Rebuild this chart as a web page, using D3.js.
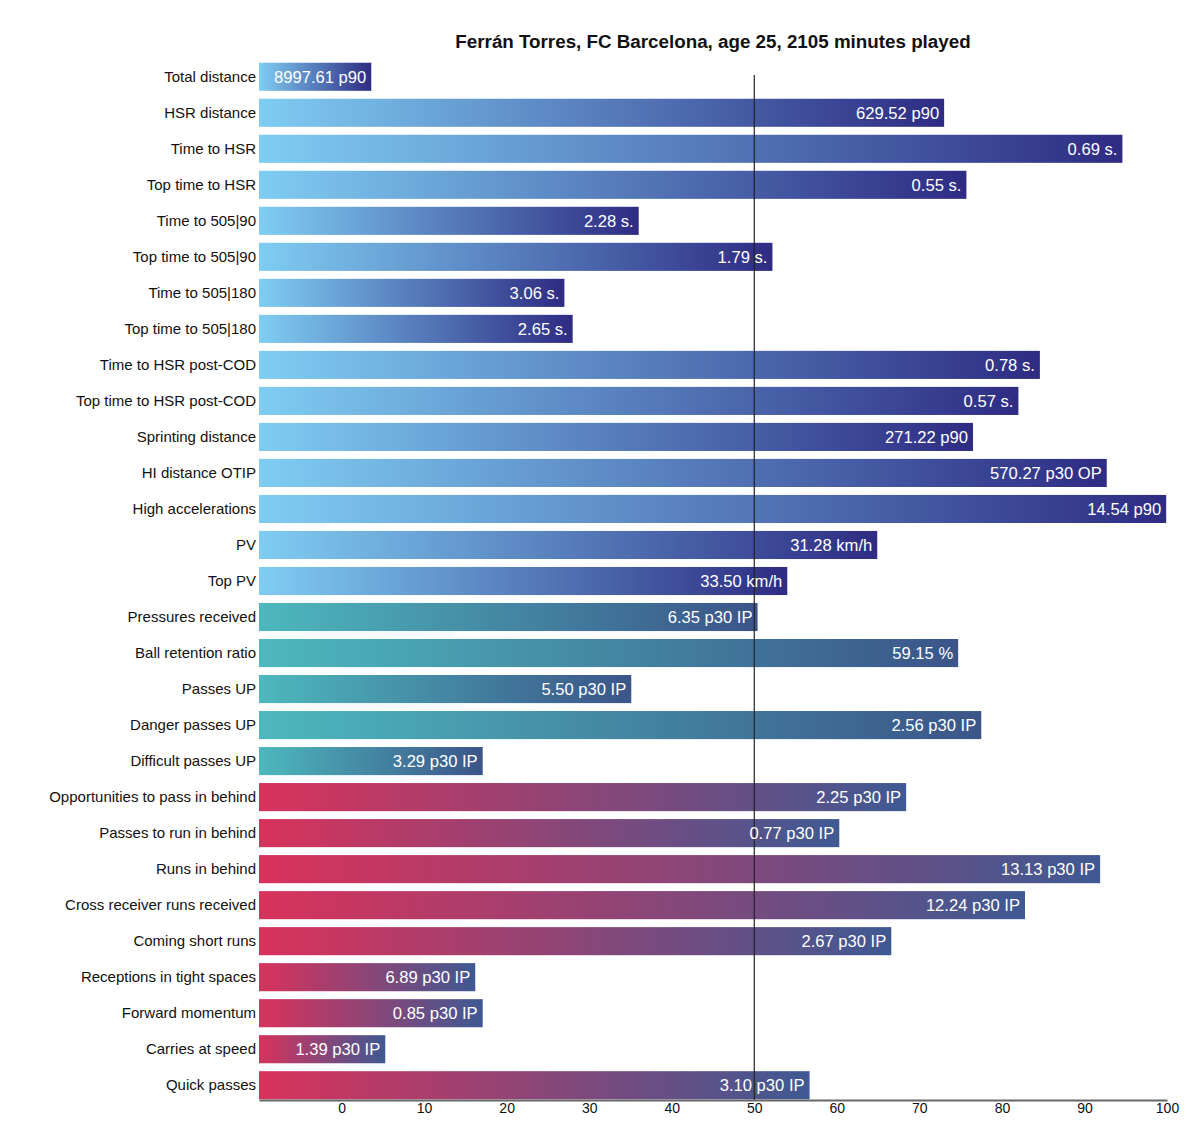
<!DOCTYPE html>
<html>
<head>
<meta charset="utf-8">
<script src="https://cdn.jsdelivr.net/npm/d3@7"></script>
<style>
  body { margin: 0; background: #fff; font-family: Helvetica, Arial, "Liberation Sans", sans-serif; }
</style>
</head>
<body>
<div id="chart"></div>
<script>
// metric names, top to bottom
const metrics = [
  "Total distance", "HSR distance", "Time to HSR", "Top time to HSR",
  "Time to 505|90", "Top time to 505|90", "Time to 505|180", "Top time to 505|180",
  "Time to HSR post-COD", "Top time to HSR post-COD", "Sprinting distance",
  "HI distance OTIP", "High accelerations", "PV", "Top PV",
  "Pressures received", "Ball retention ratio", "Passes UP", "Danger passes UP",
  "Difficult passes UP",
  "Opportunities to pass in behind", "Passes to run in behind", "Runs in behind",
  "Cross receiver runs received", "Coming short runs", "Receptions in tight spaces",
  "Forward momentum", "Carries at speed", "Quick passes"
]

// percentile (bar length)
const percentiles = [
  3.6, 73.0, 94.6, 75.7,
  36.0, 52.2, 27.0, 28.0,
  84.6, 82.0, 76.5,
  92.7, 99.9, 64.9, 54.0,
  50.4, 74.7, 35.1, 77.5,
  17.1,
  68.4, 60.3, 91.9,
  82.8, 66.6, 16.2,
  17.1, 5.3, 56.7
]

// raw value shown inside each bar
const valueLabels = [
  "8997.61 p90", "629.52 p90", "0.69 s.", "0.55 s.",
  "2.28 s.", "1.79 s.", "3.06 s.", "2.65 s.",
  "0.78 s.", "0.57 s.", "271.22 p90",
  "570.27 p30 OP", "14.54 p90", "31.28 km/h", "33.50 km/h",
  "6.35 p30 IP", "59.15 %", "5.50 p30 IP", "2.56 p30 IP",
  "3.29 p30 IP",
  "2.25 p30 IP", "0.77 p30 IP", "13.13 p30 IP",
  "12.24 p30 IP", "2.67 p30 IP", "6.89 p30 IP",
  "0.85 p30 IP", "1.39 p30 IP", "3.10 p30 IP"
]

// which block each metric belongs to
const groups = [
  "phys", "phys", "phys", "phys", "phys", "phys", "phys", "phys",
  "phys", "phys", "phys", "phys", "phys", "phys", "phys",
  "pass", "pass", "pass", "pass", "pass",
  "run", "run", "run", "run", "run", "run", "run", "run", "run"
]

const xTicks = [0, 10, 20, 30, 40, 50, 60, 70, 80, 90, 100]

const groupColors = {
  phys: ["#7fcdf3", "#2e2c83"],
  pass: ["#4db8bd", "#3b5589"],
  run:  ["#d8325b", "#3f5993"]
}

const data = metrics.map((m, i) => ({
  metric: m, pct: percentiles[i], label: valueLabels[i], group: groups[i]
}))

const W = 1200, H = 1148

const svg = d3.select("#chart").append("svg")
  .attr("width", W)
  .attr("height", H)

const x = d3.scaleLinear().domain([-10, 100]).range([259, 1167])
const y = d3.scaleBand().domain(metrics).range([62, 1100])
  .paddingInner(0.22).paddingOuter(0.02)

// one gradient per block, stretched over each bar
const defs = svg.append("defs")
Object.keys(groupColors).forEach(function(g) {
  const grad = defs.append("linearGradient")
    .attr("id", "grad-" + g)
    .attr("x1", "0%").attr("x2", "100%")
    .attr("y1", "0%").attr("y2", "0%")
  grad.append("stop").attr("offset", "0%").attr("stop-color", groupColors[g][0])
  grad.append("stop").attr("offset", "100%").attr("stop-color", groupColors[g][1])
})

// title
svg.append("text")
  .attr("x", 713)
  .attr("y", 48)
  .attr("text-anchor", "middle")
  .style("font-size", "18.8px")
  .style("font-weight", "bold")
  .style("fill", "#111")
  .text("Ferrán Torres, FC Barcelona, age 25, 2105 minutes played")

// bars
svg.append("g")
  .selectAll("rect")
  .data(data)
  .enter()
  .append("rect")
    .attr("x", x(-10))
    .attr("y", d => y(d.metric))
    .attr("width", d => x(d.pct) - x(-10))
    .attr("height", y.bandwidth())
    .style("fill", d => "url(#grad-" + d.group + ")")

// metric names on the left
svg.append("g")
  .selectAll("text")
  .data(data)
  .enter()
  .append("text")
    .attr("x", x(-10) - 3)
    .attr("y", d => y(d.metric) + y.bandwidth() / 2)
    .attr("dy", "0.35em")
    .attr("text-anchor", "end")
    .style("font-size", "15px")
    .style("fill", "#111")
    .text(d => d.metric)

// 50th percentile line
svg.append("line")
  .attr("x1", x(50)).attr("x2", x(50))
  .attr("y1", 75).attr("y2", 1100)
  .style("stroke", "#222")
  .style("stroke-width", 1.2)

// values inside bars
svg.append("g")
  .selectAll("text")
  .data(data)
  .enter()
  .append("text")
    .attr("x", d => x(d.pct) - 5)
    .attr("y", d => y(d.metric) + y.bandwidth() / 2)
    .attr("dy", "0.35em")
    .attr("text-anchor", "end")
    .style("font-size", "16.6px")
    .style("fill", "#fff")
    .text(d => d.label)

// bottom axis
const axis = svg.append("g")
  .attr("transform", "translate(0,1100)")
  .call(d3.axisBottom(x).tickValues(xTicks).tickSize(0).tickPadding(3))
axis.select(".domain").style("stroke", "#666").style("stroke-width", 2)
axis.selectAll("text")
  .style("font-size", "14px")
  .style("fill", "#111")
  .style("font-family", "Helvetica, Arial, 'Liberation Sans', sans-serif")
</script>
</body>
</html>
